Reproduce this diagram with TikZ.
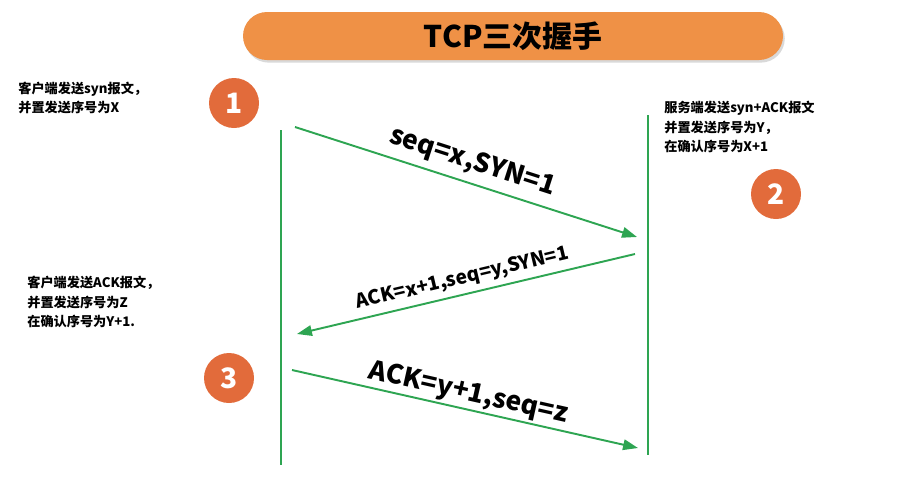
\documentclass[tikz,border=0pt]{standalone}
\usepackage{fontspec}
\setmainfont{Noto Sans CJK SC}
\usetikzlibrary{arrows.meta, shadows}
\definecolor{msggreen}{HTML}{2EA552}
\definecolor{pillorange}{HTML}{EF9146}
\definecolor{steporange}{HTML}{E26B3B}
\tikzset{
  lifeline/.style = {msggreen, line width=1.1pt},
  msg/.style      = {-{Triangle[length=8.5pt, width=6pt]}, msggreen,
                     line width=1.1pt},
  bigtag/.style   = {text=black, inner sep=1pt,
                     font=\fontsize{15}{18}\selectfont\bfseries},
  smalltag/.style = {text=black, inner sep=1pt,
                     font=\fontsize{11}{13}\selectfont\bfseries},
  note/.style     = {align=left, anchor=west, inner sep=0pt,
                     font=\fontsize{7.5}{11.3}\selectfont\bfseries},
}

\begin{document}
\begin{tikzpicture}[
  x=0.02cm, y=-0.02cm,
  title/.style={rounded corners=24*0.02cm, fill=pillorange,
                minimum width=540*0.02cm, minimum height=48*0.02cm,
                font=\fontsize{17}{20}\selectfont\bfseries,
                drop shadow={shadow xshift=1pt, shadow yshift=-1.5pt,
                             fill=black!25, opacity=0.6}},
  stepdot/.style={circle, fill=steporange, text=white,
                  minimum size=50*0.02cm, inner sep=0pt,
                  font=\fontsize{16}{18}\selectfont\bfseries},
]
  \useasboundingbox (0,0) rectangle (911,477);

  \node[title] (head) at (513,36) {TCP三次握手};

  % lifelines
  \coordinate (ctop) at (281,130);
  \coordinate (cbot) at (281,465);
  \coordinate (stop) at (648,115);
  \coordinate (sbot) at (648,455);
  \draw[lifeline] (ctop) -- (cbot);
  \draw[lifeline] (stop) -- (sbot);

  \node[stepdot] (n1) at (234,103) {1};
  \node[stepdot] (n2) at (776,194) {2};
  \node[stepdot] (n3) at (229,378) {3};

  % messages
  \coordinate (m1a) at (295,127);
  \coordinate (m1b) at (637,237);
  \coordinate (m2a) at (635,254);
  \coordinate (m2b) at (297,334);
  \coordinate (m3a) at (292,370);
  \coordinate (m3b) at (638,448);

  \draw[msg] (m1a) -- node[bigtag, sloped, above=3pt] {seq=x,SYN=1} (m1b);
  \draw[msg] (m2a) -- node[smalltag, sloped, above=2pt] {ACK=x+1,seq=y,SYN=1} (m2b);
  \draw[msg] (m3a) -- node[bigtag, sloped, above=0pt] {ACK=y+1,seq=z} (m3b);

  \node[note] (t1) at (18,98) {客户端发送syn报文，\\并置发送序号为X};
  \node[note] (t2) at (664,127) {服务端发送syn+ACK报文\\并置发送序号为Y，\\在确认序号为X+1};
  \node[note] (t3) at (27,302) {客户端发送ACK报文，\\并置发送序号为Z\\在确认序号为Y+1.};
\end{tikzpicture}
\end{document}
